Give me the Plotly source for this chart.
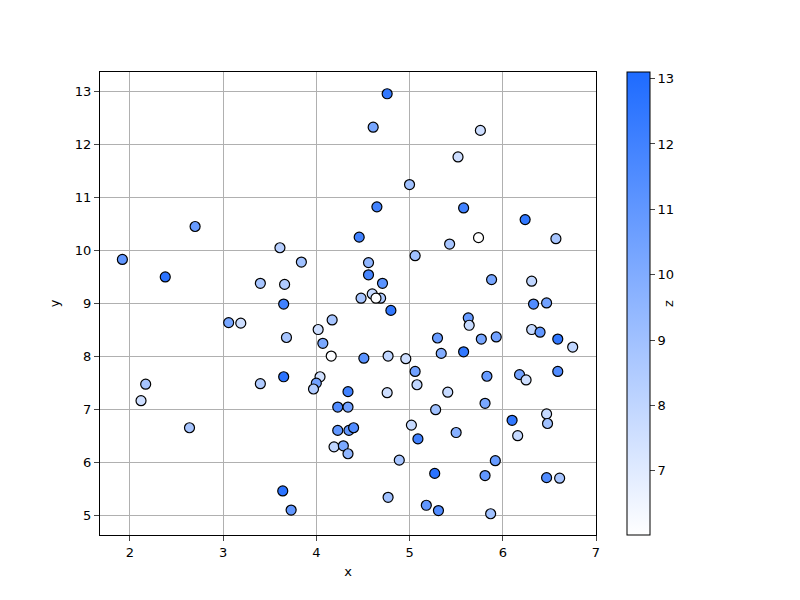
import plotly.graph_objects as go

pts = [
(1.92,9.83,11),(2.38,9.50,12.7),(2.70,10.45,10.8),(2.17,7.48,8.8),(2.12,7.17,7.6),(2.64,6.66,8.8),
(3.06,8.64,10.3),(3.19,8.63,7.6),(3.61,10.05,8.3),(3.84,9.78,9),(3.40,9.38,8.8),(3.66,9.36,8.5),
(3.65,8.99,12),(3.68,8.36,8.8),(3.40,7.49,8.5),(3.65,7.62,12.7),(3.64,5.47,12.7),(3.73,5.11,11),
(4.02,8.51,7.6),(4.17,8.69,8.8),(4.07,8.25,10.2),(4.16,8.01,6.1),(4.04,7.62,7.5),(4.00,7.50,10.5),
(3.97,7.39,8.5),(4.34,7.34,12),(4.23,7.05,11.5),(4.34,7.05,10.5),(4.23,6.61,11),(4.35,6.61,11),
(4.40,6.66,11.5),(4.19,6.30,8),(4.29,6.32,10.2),(4.34,6.17,9.5),(4.76,12.95,12.5),(4.61,12.32,10.3),
(5.00,11.24,9),(4.65,10.82,12),(4.46,10.25,12),(4.56,9.77,9.5),(4.56,9.54,11.8),(4.71,9.38,11.2),
(4.48,9.10,8.8),(4.60,9.18,7.8),(4.69,9.10,8.5),(4.64,9.10,6.1),(4.80,8.87,12.5),(5.06,9.90,9),
(4.51,7.97,11.2),(4.77,8.01,8),(4.96,7.96,7.6),(5.06,7.72,10.5),(5.08,7.47,8),(4.76,7.32,7.6),
(5.02,6.71,7.8),(5.09,6.45,12),(4.89,6.05,8.8),(4.77,5.35,9),(5.18,5.20,11),(5.31,5.10,11.5),
(5.27,5.80,12.7),(5.52,11.76,7.6),(5.76,12.26,7.6),(5.58,10.80,12),(5.74,10.24,6),(5.43,10.12,8.8),
(5.30,8.35,10.8),(5.34,8.06,10),(5.63,8.73,10.8),(5.64,8.59,7.8),(5.58,8.09,12.5),(5.88,9.45,10.3),
(5.77,8.33,10.3),(5.93,8.37,10.5),(5.41,7.33,7.8),(5.28,7.00,9),(5.50,6.57,9.8),(5.83,7.63,10.8),
(5.81,7.12,10.2),(5.92,6.04,10.8),(5.81,5.76,11),(5.87,5.04,9),(6.24,10.58,12.5),(6.57,10.22,8.8),
(6.31,9.42,8),(6.33,8.99,11.5),(6.47,9.01,10.5),(6.31,8.51,7.8),(6.40,8.46,11),(6.59,8.33,12.5),
(6.75,8.18,8),(6.18,7.66,10.5),(6.25,7.56,7.6),(6.59,7.72,11.5),(6.10,6.80,12.5),(6.16,6.51,7.8),
(6.47,6.92,7.8),(6.48,6.74,9),(6.47,5.72,11.5),(6.61,5.71,8.8),
]
x = [p[0] for p in pts]
y = [p[1] for p in pts]
z = [p[2] for p in pts]

fig = go.Figure(go.Scatter(
    x=x, y=y, mode="markers",
    marker=dict(size=10, color=z, cmin=6.02, cmax=13.1,
                colorscale=[[0, "#ffffff"], [1, "#1e6bff"]],
                line=dict(color="black", width=1.2),
                colorbar=dict(title=dict(text="z", side="right", font=dict(size=13)),
                              thickness=23, len=1, lenmode="fraction", x=1.0625, xanchor="left",
                              xpad=0, ypad=0,
                              y=0.5, yanchor="middle", outlinecolor="black", outlinewidth=1,
                              ticks="outside", tickvals=[7, 8, 9, 10, 11, 12, 13],
                              tickfont=dict(size=13)))))
ax = dict(showgrid=True, gridcolor="#b0b0b0", gridwidth=1, showline=True, linecolor="black",
          mirror=True, ticks="outside", zeroline=False, tickfont=dict(size=13), automargin=False)
fig.update_layout(
    width=800, height=600, plot_bgcolor="white", paper_bgcolor="white",
    margin=dict(l=92, r=212, t=64, b=73, autoexpand=False),
    font=dict(family="DejaVu Sans", color="black"),
    xaxis=dict(ax, range=[1.68, 7.0], dtick=1, title=dict(text="x", font=dict(size=13), standoff=8)),
    yaxis=dict(ax, range=[4.64, 13.36], dtick=1, title=dict(text="y", font=dict(size=13), standoff=12)),
)
fig.write_html("out.html")
